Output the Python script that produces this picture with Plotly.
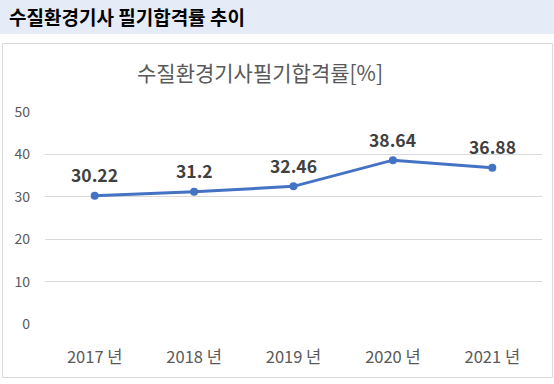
import plotly.graph_objects as go

years = ["2017 년", "2018 년", "2019 년", "2020 년", "2021 년"]
rates = [30.22, 31.2, 32.46, 38.64, 36.88]
rate_labels = ["30.22", "31.2", "32.46", "38.64", "36.88"]
y_ticks = [0, 10, 20, 30, 40, 50]

W, H = 554, 384
L, R, T, B = 45, 12, 112, 60
PW, PH = W - L - R, H - T - B

def px_x(px):
    return (px - L) / PW

def px_y(py):
    return (H - B - py) / PH

FONT = "Noto Sans CJK KR"

fig = go.Figure()
fig.add_trace(go.Scatter(
    x=years, y=rates, mode="lines+markers",
    line=dict(color="#4472C4", width=3),
    marker=dict(color="#4472C4", size=8),
    hoverinfo="skip", showlegend=False,
))

annotations = []
for yr, v, t in zip(years, rates, rate_labels):
    annotations.append(dict(
        x=yr, y=v, xref="x", yref="y", text=t, showarrow=False,
        yshift=21, font=dict(family=FONT, size=17.5, color="#404040", weight="bold"),
    ))

annotations.append(dict(
    x=px_x(7), y=px_y(17), xref="paper", yref="paper", xanchor="left", yanchor="middle",
    text="<b>수질환경기사 필기합격률 추이</b>", showarrow=False,
    font=dict(family=FONT, size=19, color="#000000"),
))
annotations.append(dict(
    x=px_x(260), y=px_y(72), xref="paper", yref="paper", xanchor="center", yanchor="middle",
    text="수질환경기사필기합격률[%]", showarrow=False,
    font=dict(family=FONT, size=21, color="#595959"),
))

shapes = [
    dict(type="rect", xref="paper", yref="paper", layer="below",
         x0=px_x(0), x1=px_x(W), y0=px_y(0), y1=px_y(34),
         fillcolor="#E6ECF7", line=dict(width=0)),
    dict(type="rect", xref="paper", yref="paper", layer="below",
         x0=px_x(2.5), x1=px_x(552.5), y0=px_y(43.5), y1=px_y(377.5),
         fillcolor="rgba(0,0,0,0)", line=dict(color="#D9D9D9", width=1)),
]

fig.update_layout(
    width=W, height=H,
    margin=dict(l=L, r=R, t=T, b=B),
    paper_bgcolor="white", plot_bgcolor="white",
    annotations=annotations, shapes=shapes,
    font=dict(family=FONT, color="#595959"),
    xaxis=dict(
        type="category", range=[-0.5, len(years) - 0.5],
        showgrid=False, showline=False, zeroline=False,
        ticks="", tickfont=dict(family=FONT, size=16.5, color="#595959"),
        ticklabelstandoff=21, fixedrange=True,
    ),
    yaxis=dict(
        range=[0, 50], tickvals=y_ticks, showgrid=True, gridcolor="#D9D9D9", gridwidth=1,
        zeroline=False, showline=False, ticks="",
        tickfont=dict(family=FONT, size=14, color="#595959"),
        ticklabelstandoff=14, fixedrange=True,
    ),
)

fig.write_html("out.html", config={"displayModeBar": False},
               post_script="document.body.style.margin='0';")
